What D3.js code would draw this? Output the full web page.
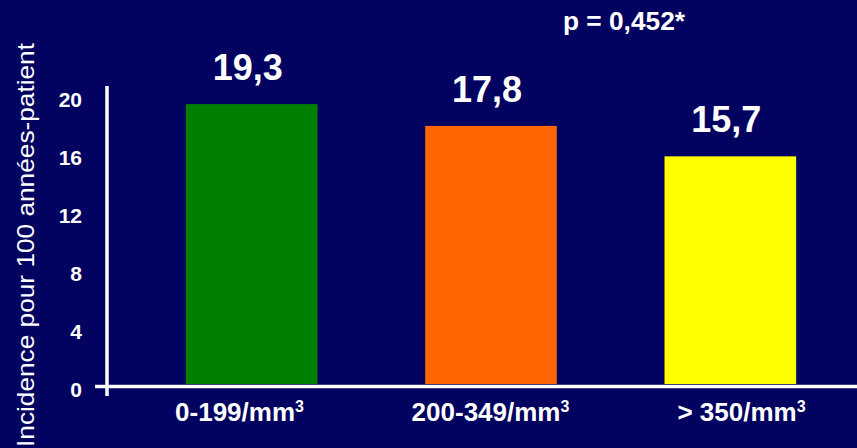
<!DOCTYPE html>
<html>
<head>
<meta charset="utf-8">
<script src="https://cdn.jsdelivr.net/npm/d3@7"></script>
<style>
  html, body { margin: 0; padding: 0; background: #020260; }
  svg { display: block; }
  text { font-family: "Liberation Sans", Arial, Helvetica, sans-serif; fill: #ffffff; }
</style>
</head>
<body>
<script>
// ---- data ----
const categories = ["0-199/mm", "200-349/mm", "> 350/mm"];
const categorySup = ["3", "3", "3"];
const values = [19.3, 17.8, 15.7];
const valueLabels = ["19,3", "17,8", "15,7"];
const barColors = ["#008000", "#FF6600", "#FFFF00"];
const yTicks = [0, 4, 8, 12, 16, 20];
const yTitle = "Incidence pour 100 années-patient";
const pLabel = "p = 0,452*";

// ---- layout ----
const W = 857, H = 448;
const svg = d3.select("body").append("svg").attr("width", W).attr("height", H);
svg.append("rect").attr("width", W).attr("height", H).attr("fill", "#020260");

const y = d3.scaleLinear().domain([0, 20]).range([384, 94]);
const x = d3.scaleBand().domain(categories).range([132, 850]).paddingInner(0.45).paddingOuter(0.225);
const xLab = d3.scalePoint().domain(categories).range([239, 741]);

// bars
svg.selectAll("rect.bar").data(values).join("rect")
  .attr("class", "bar")
  .attr("x", (d, i) => x(categories[i]))
  .attr("width", x.bandwidth())
  .attr("y", d => y(d))
  .attr("height", d => y(0) - y(d))
  .attr("fill", (d, i) => barColors[i]);

// value labels
svg.selectAll("text.val").data(values).join("text")
  .attr("class", "val")
  .attr("x", (d, i) => x(categories[i]) + x.bandwidth() / 2 - 4)
  .attr("y", d => y(d) - 24)
  .attr("text-anchor", "middle")
  .style("font-size", "36px").style("font-weight", "bold")
  .text((d, i) => valueLabels[i]);

// y axis (labels only) via d3 axis
const yAxisX = 107;
const gy = svg.append("g").attr("transform", `translate(${yAxisX},0)`)
  .call(d3.axisLeft(y).tickValues(yTicks).tickSize(0).tickPadding(25).tickFormat(d3.format("d")));
gy.select(".domain").remove();
gy.selectAll("text")
  .attr("fill", "#ffffff")
  .attr("transform", "translate(0,6)")
  .style("font-size", "21px").style("font-weight", "bold")
  .style("font-family", "\"Liberation Sans\", Arial, Helvetica, sans-serif");

// y axis line
svg.append("line")
  .attr("x1", yAxisX).attr("x2", yAxisX)
  .attr("y1", y(20) - 8).attr("y2", y(0) + 12)
  .attr("stroke", "#ffffff").attr("stroke-width", 3.5);

// x axis via d3 axis (labels positioned with point scale)
const gx = svg.append("g").attr("transform", `translate(0,${y(0)})`)
  .call(d3.axisBottom(xLab).tickSize(0));
gx.select(".domain").remove();
gx.selectAll(".tick text").each(function (d, i) {
  const t = d3.select(this);
  t.text(null).attr("y", 37).attr("dy", 0)
    .attr("fill", "#ffffff")
    .style("font-size", "26px").style("font-weight", "bold")
    .style("font-family", "\"Liberation Sans\", Arial, Helvetica, sans-serif");
  t.append("tspan").text(d);
  t.append("tspan").attr("dy", -9).style("font-size", "16px").text(categorySup[i]);
});
svg.append("line")
  .attr("x1", 95).attr("x2", W)
  .attr("y1", y(0) + 2.5).attr("y2", y(0) + 2.5)
  .attr("stroke", "#ffffff").attr("stroke-width", 3.5);

// y title
svg.append("text")
  .attr("transform", "translate(34,245) rotate(-90)")
  .attr("text-anchor", "middle")
  .attr("textLength", 404).attr("lengthAdjust", "spacingAndGlyphs")
  .style("font-size", "24px")
  .text(yTitle);

// p-value
svg.append("text")
  .attr("x", 563).attr("y", 30)
  .attr("textLength", 122).attr("lengthAdjust", "spacingAndGlyphs")
  .style("font-size", "25px").style("font-weight", "bold")
  .text(pLabel);
</script>
</body>
</html>
